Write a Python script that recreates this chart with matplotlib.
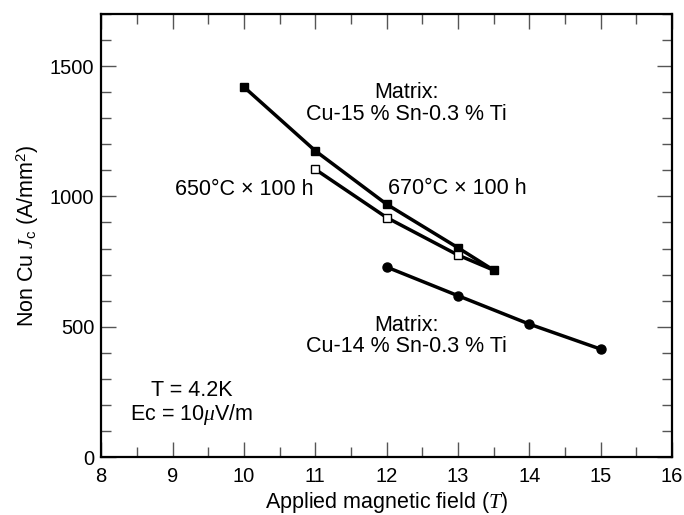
import matplotlib
matplotlib.use("Agg")
import matplotlib.pyplot as plt
from matplotlib.ticker import MultipleLocator

plt.rcParams['font.family'] = ['Liberation Sans', 'DejaVu Sans']
plt.rcParams['mathtext.fontset'] = 'custom'
plt.rcParams['mathtext.rm'] = 'Liberation Sans'
plt.rcParams['mathtext.it'] = 'Liberation Serif:italic'

# 670 C x 100 h, Cu-15%Sn-0.3%Ti (filled squares)
field_670 = [10, 11, 12, 13, 13.5]
jc_670 = [1420, 1175, 970, 803, 717]

# 650 C x 100 h, Cu-15%Sn-0.3%Ti (open squares, joins the last filled point)
field_650 = [11, 12, 13, 13.5]
jc_650 = [1104, 919, 775, 717]

# Cu-14%Sn-0.3%Ti (filled circles)
field_14 = [12, 13, 14, 15]
jc_14 = [729, 619, 510, 414]

fs = 15.5      # annotations / axis labels
tfs = 14.5     # tick labels

fig = plt.figure(figsize=(6.84, 5.15), dpi=100)
ax = fig.add_axes([0.148, 0.1126, 0.8345, 0.8602])

ax.plot(field_650, jc_650, '-', color='black', lw=2.5, zorder=2)
ax.plot(field_650[:-1], jc_650[:-1], 's', ms=6, mfc='white', mec='black', mew=1.0, zorder=4)
ax.plot(field_670, jc_670, 's-', color='black', lw=2.5, ms=6, zorder=3)
ax.plot(field_14, jc_14, 'o-', color='black', lw=2.5, ms=6.5, zorder=3)

ax.set_xlim(8, 16)
ax.set_ylim(0, 1700)
ax.xaxis.set_major_locator(MultipleLocator(1))
ax.xaxis.set_minor_locator(MultipleLocator(0.5))
ax.yaxis.set_major_locator(MultipleLocator(500))
ax.yaxis.set_minor_locator(MultipleLocator(100))
ax.tick_params(which='both', direction='in', top=True, right=True,
               color='#555555', width=1.0, labelsize=tfs)
ax.tick_params(which='major', length=11)
ax.tick_params(which='minor', length=7.5)
ax.tick_params(axis='x', pad=7)
ax.tick_params(axis='y', pad=5)
for sp in ax.spines.values():
    sp.set_linewidth(1.6)

ax.set_xlabel("Applied magnetic field ($T$)", fontsize=fs, labelpad=3)
ax.set_ylabel("Non Cu $J_{\\rm c}$ (A/mm$^2$)", fontsize=fs, labelpad=6)

ax.text(12.28, 1356, "Matrix:\nCu-15 % Sn-0.3 % Ti", ha='center', va='center',
        fontsize=fs, linespacing=1.05)
ax.text(10.0, 1028, "650°C × 100 h", ha='center', va='center', fontsize=fs)
ax.text(12.99, 1032, "670°C × 100 h", ha='center', va='center', fontsize=fs)
ax.text(12.28, 464, "Matrix:\nCu-14 % Sn-0.3 % Ti", ha='center', va='center',
        fontsize=fs, linespacing=1.05)
ax.text(9.27, 205, "T = 4.2K\nEc = 10$\\mathit{\\mu}$V/m", ha='center', va='center',
        fontsize=fs, linespacing=1.05)

fig.savefig("out.png", dpi=100)
